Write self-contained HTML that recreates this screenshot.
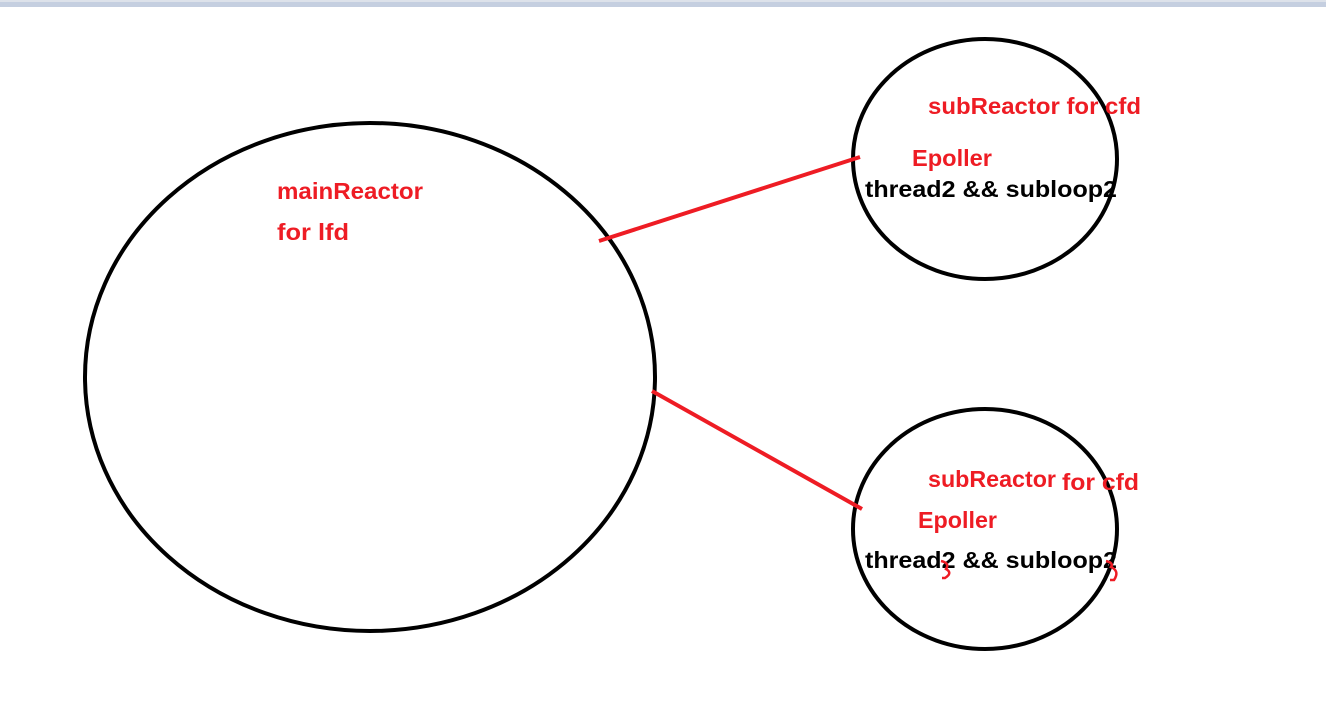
<!DOCTYPE html>
<html><head><meta charset="utf-8"><style>
html,body{margin:0;padding:0;background:#fff;width:1326px;height:723px;overflow:hidden}
text{font-family:"Liberation Sans",sans-serif;font-weight:bold;font-size:23px}
</style></head><body>
<svg width="1326" height="723" xmlns="http://www.w3.org/2000/svg">
<rect x="0" y="0" width="1326" height="7" fill="#c5cfe0"/>
<rect x="0" y="0" width="1326" height="2" fill="#dde2ea"/>
<g fill="none" stroke="#000" stroke-width="4">
<ellipse cx="370" cy="377" rx="285" ry="254"/>
<ellipse cx="985" cy="159" rx="132" ry="120"/>
<ellipse cx="985" cy="529" rx="132" ry="120"/>
</g>
<g stroke="#ee1c24" stroke-width="4" fill="none">
<line x1="599" y1="241" x2="860" y2="157"/>
<line x1="652" y1="391" x2="862" y2="509"/>
</g>
<g fill="#ee1c24">
<text x="277" y="199" textLength="146" lengthAdjust="spacingAndGlyphs">mainReactor</text>
<text x="277" y="240" textLength="72" lengthAdjust="spacingAndGlyphs">for lfd</text>
<text x="928" y="114" textLength="213" lengthAdjust="spacingAndGlyphs">subReactor for cfd</text>
<text x="912" y="166" textLength="80" lengthAdjust="spacingAndGlyphs">Epoller</text>
<text x="928" y="487" textLength="128" lengthAdjust="spacingAndGlyphs">subReactor</text>
<text x="1062" y="490" textLength="77" lengthAdjust="spacingAndGlyphs">for cfd</text>
<text x="918" y="528" textLength="79" lengthAdjust="spacingAndGlyphs">Epoller</text>
</g>
<g fill="#000">
<text x="865" y="197" textLength="252" lengthAdjust="spacingAndGlyphs">thread2 &amp;&amp; subloop2</text>
<text x="865" y="568" textLength="252" lengthAdjust="spacingAndGlyphs">thread2 &amp;&amp; subloop2</text>
</g>
<g stroke="#ee1c24" stroke-width="2.5" fill="none">
<path d="M941 561 Q950 563 946 569 Q953 573 945 578 L942 578"/>
<path d="M1106 561 Q1114 563 1111 567 Q1120 571 1114 580 L1110 580"/>
</g>
</svg>
</body></html>
